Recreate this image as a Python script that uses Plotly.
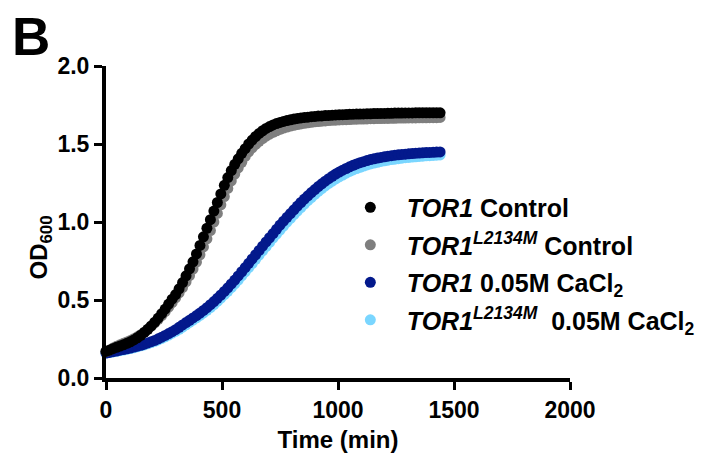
import plotly.graph_objects as go

time_min = list(range(0, 1441, 15))

tor1_control = [
    0.170, 0.178, 0.188, 0.197, 0.205, 0.213, 0.222, 0.232, 0.244, 0.258,
    0.274, 0.292, 0.312, 0.334, 0.358, 0.384, 0.412, 0.442, 0.474, 0.505,
    0.535, 0.572, 0.612, 0.655, 0.700, 0.745, 0.795, 0.850, 0.905, 0.960,
    1.015, 1.070, 1.125, 1.180, 1.235, 1.285, 1.330, 1.370, 1.405, 1.440,
    1.470, 1.500, 1.525, 1.548, 1.568, 1.585, 1.600, 1.612, 1.622, 1.631,
    1.638, 1.645, 1.650, 1.655, 1.660, 1.664, 1.667, 1.670, 1.672, 1.675,
    1.677, 1.679, 1.680, 1.682, 1.683, 1.685, 1.686, 1.687, 1.688, 1.689,
    1.690, 1.691, 1.692, 1.692, 1.693, 1.694, 1.694, 1.695, 1.695, 1.696,
    1.696, 1.697, 1.697, 1.698, 1.698, 1.698, 1.699, 1.699, 1.699, 1.700,
    1.700, 1.700, 1.700, 1.700, 1.700, 1.700, 1.700,
]

tor1_mut_control = [
    0.170, 0.180, 0.192, 0.203, 0.213, 0.222, 0.231, 0.241, 0.252, 0.264,
    0.278, 0.294, 0.312, 0.332, 0.353, 0.376, 0.400, 0.426, 0.454, 0.483,
    0.513, 0.545, 0.580, 0.617, 0.656, 0.698, 0.743, 0.790, 0.840, 0.892,
    0.945, 1.000, 1.055, 1.110, 1.163, 1.215, 1.263, 1.307, 1.347, 1.383,
    1.420, 1.450, 1.475, 1.497, 1.517, 1.535, 1.550, 1.563, 1.575, 1.585,
    1.594, 1.602, 1.609, 1.615, 1.620, 1.625, 1.629, 1.633, 1.636, 1.639,
    1.642, 1.644, 1.646, 1.648, 1.650, 1.652, 1.653, 1.654, 1.655, 1.656,
    1.657, 1.658, 1.659, 1.660, 1.660, 1.661, 1.662, 1.662, 1.663, 1.663,
    1.664, 1.664, 1.665, 1.665, 1.666, 1.666, 1.666, 1.667, 1.667, 1.667,
    1.668, 1.668, 1.668, 1.669, 1.669, 1.669, 1.670,
]

tor1_cacl2 = [
    0.160, 0.164, 0.169, 0.173, 0.178, 0.182, 0.187, 0.192, 0.198, 0.204,
    0.210, 0.217, 0.225, 0.233, 0.241, 0.251, 0.262, 0.273, 0.285, 0.297,
    0.310, 0.325, 0.340, 0.355, 0.370, 0.385, 0.400, 0.416, 0.433, 0.451,
    0.470, 0.490, 0.511, 0.532, 0.555, 0.578, 0.603, 0.628, 0.654, 0.681,
    0.708, 0.735, 0.763, 0.790, 0.818, 0.845, 0.872, 0.899, 0.926, 0.953,
    0.980, 1.005, 1.030, 1.054, 1.078, 1.102, 1.125, 1.147, 1.168, 1.189,
    1.208, 1.227, 1.245, 1.262, 1.278, 1.293, 1.307, 1.320, 1.332, 1.343,
    1.354, 1.363, 1.372, 1.380, 1.387, 1.394, 1.400, 1.405, 1.410, 1.414,
    1.418, 1.422, 1.425, 1.428, 1.431, 1.433, 1.435, 1.437, 1.439, 1.441,
    1.442, 1.444, 1.445, 1.446, 1.447, 1.448, 1.449,
]

tor1_mut_cacl2 = [
    0.160, 0.163, 0.167, 0.171, 0.175, 0.179, 0.184, 0.189, 0.194, 0.200,
    0.206, 0.212, 0.219, 0.227, 0.235, 0.244, 0.254, 0.264, 0.275, 0.287,
    0.299, 0.312, 0.326, 0.341, 0.356, 0.371, 0.386, 0.401, 0.417, 0.434,
    0.452, 0.471, 0.491, 0.512, 0.534, 0.556, 0.579, 0.603, 0.628, 0.654,
    0.680, 0.707, 0.734, 0.761, 0.788, 0.815, 0.842, 0.869, 0.896, 0.922,
    0.948, 0.974, 0.999, 1.023, 1.047, 1.070, 1.093, 1.115, 1.137, 1.157,
    1.177, 1.196, 1.214, 1.231, 1.247, 1.262, 1.276, 1.289, 1.301, 1.313,
    1.324, 1.334, 1.343, 1.351, 1.359, 1.366, 1.372, 1.378, 1.383, 1.388,
    1.392, 1.396, 1.400, 1.403, 1.406, 1.409, 1.412, 1.414, 1.416, 1.418,
    1.420, 1.422, 1.424, 1.425, 1.427, 1.428, 1.430,
]

x_ticks = [0, 500, 1000, 1500, 2000]
y_ticks = [0.0, 0.5, 1.0, 1.5, 2.0]
y_tick_labels = ["0.0", "0.5", "1.0", "1.5", "2.0"]

# drawn bottom-to-top; legend rank gives the top-to-bottom legend order
series = [
    ("<i>TOR1</i><sup><i>L2134M</i></sup>  0.05M CaCl<sub>2</sub>", tor1_mut_cacl2, "#7AD6FF", 4),
    ("<i>TOR1</i> 0.05M CaCl<sub>2</sub>", tor1_cacl2, "#03198C", 3),
    ("<i>TOR1</i><sup><i>L2134M</i></sup> Control", tor1_mut_control, "#7F7F7F", 2),
    ("<i>TOR1</i> Control", tor1_control, "#000000", 1),
]

FONT = "Liberation Sans, Arial, Helvetica, sans-serif"

fig = go.Figure()
for name, vals, color, rank in series:
    fig.add_trace(go.Scatter(
        x=time_min, y=vals, mode="markers", name=name,
        legendgroup=f"g{rank}", legendrank=rank,
        marker=dict(size=11, color=color, line=dict(width=0)),
        cliponaxis=False,
    ))

axis_common = dict(
    showline=True, linecolor="black", linewidth=4,
    ticks="outside", ticklen=8, tickwidth=3, tickcolor="black",
    showgrid=False, zeroline=False, automargin=False,
    tickfont=dict(family=FONT, size=23, color="black", weight="bold"),
)

fig.update_layout(
    width=704, height=458,
    margin=dict(l=98, r=138, t=58, b=88),
    paper_bgcolor="white", plot_bgcolor="white",
    font=dict(family=FONT, color="black", weight="bold"),
    xaxis=dict(
        range=[0, 2000], tickvals=x_ticks, ticktext=[str(v) for v in x_ticks],
        title=dict(text="Time (min)", standoff=11,
                   font=dict(family=FONT, size=24, color="black", weight="bold")),
        **axis_common,
    ),
    yaxis=dict(
        range=[0, 2.0], tickvals=y_ticks, ticktext=y_tick_labels,
        **axis_common,
    ),
    legend=dict(
        x=0.491, y=0.62, xanchor="left", yanchor="top",
        traceorder="grouped",
        font=dict(family=FONT, size=25, color="black", weight="bold"),
        bgcolor="rgba(0,0,0,0)", itemwidth=63, tracegroupgap=2,
    ),
    annotations=[
        dict(
            text="B", xref="paper", yref="paper", x=-0.205, y=1.094,
            xanchor="left", yanchor="middle", showarrow=False, borderpad=0,
            font=dict(family=FONT, size=53, color="black", weight="bold"),
        ),
        dict(
            text="OD<sub>600</sub>", xref="paper", yref="paper", x=-0.141, y=0.417,
            xanchor="center", yanchor="middle", textangle=-90, showarrow=False,
            font=dict(family=FONT, size=24, color="black", weight="bold"),
        ),
    ],
)

fig.write_html("out.html")
